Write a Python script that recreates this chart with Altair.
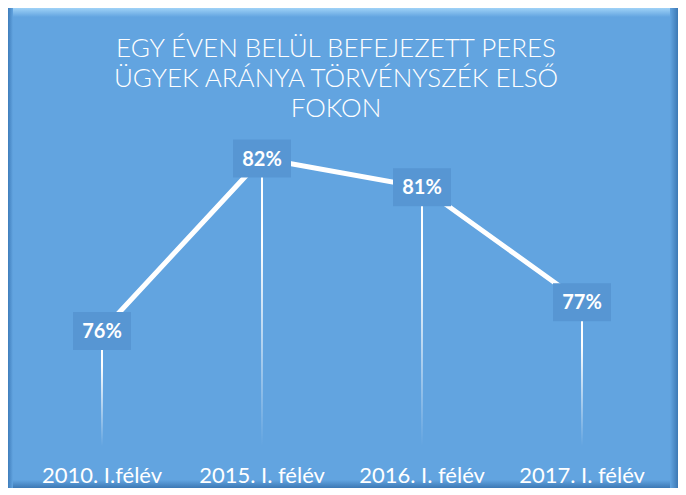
import altair as alt
import pandas as pd

periods = ["2010. I.félév", "2015. I. félév", "2016. I. félév", "2017. I. félév"]
values = [76, 82, 81, 77]
labels = ["76%", "82%", "81%", "77%"]
title_lines = ["EGY ÉVEN BELÜL BEFEJEZETT PERES", "ÜGYEK ARÁNYA TÖRVÉNYSZÉK ELSŐ", "FOKON"]

df = pd.DataFrame({"period": periods, "value": values, "label": labels})
one = pd.DataFrame({"k": [0]})

BG = "#62A4E0"
BOX = "#5796D3"

x = alt.X(
    "period:N",
    sort=periods,
    scale=alt.Scale(paddingInner=0, paddingOuter=0),
    axis=alt.Axis(title=None, labelAngle=0, domain=False, ticks=False, grid=False,
                  labelColor="white", labelFont="Lato", labelFontSize=22,
                  labelFontWeight="normal", labelPadding=19, labelLimit=0, zindex=2),
)
y = alt.Y("value:Q", scale=alt.Scale(domain=[72, 84]), axis=None)

base = alt.Chart(df).encode(x=x, y=y)


def band(x1, x2, y1, y2, c1, c2, vertical=True):
    grad = alt.Gradient(
        gradient="linear",
        stops=[alt.GradientStop(color=c1, offset=0), alt.GradientStop(color=c2, offset=1)],
        x1=0, y1=0, x2=0 if vertical else 1, y2=1 if vertical else 0,
    )
    return alt.Chart(one).mark_rect(fill=grad).encode(
        x=alt.value(x1), x2=alt.value(x2), y=alt.value(y1), y2=alt.value(y2)
    )


top_hl = band(-14, 656, -93, -84, "#9FD2F7", BG)
bottom_dk = band(-14, 656, 379, 387, BG, "#3C78B4")
right_dk = band(648, 656, -93, 387, BG, "#3C78B4", vertical=False)
left_dk = band(-14, -9, -93, 387, "#3F7DBB", BG, vertical=False)

drop_grad = alt.Gradient(
    gradient="linear",
    stops=[alt.GradientStop(color="#FFFFFF", offset=0),
           alt.GradientStop(color="#FFFFFF", offset=0.3),
           alt.GradientStop(color="rgba(255,255,255,0)", offset=1)],
    x1=0, y1=0, x2=0, y2=1,
)
drops = base.mark_bar(size=2, fill=drop_grad).encode(y2=alt.datum(72))

line = base.mark_line(color="white", strokeWidth=5)

box_path = "M-1,-0.655L1,-0.655L1,0.655L-1,0.655Z"
boxes = base.mark_point(shape=box_path, size=3364, filled=True, color=BOX, opacity=1)

texts = base.mark_text(color="white", font="Lato", fontWeight="bold", fontSize=20,
                       baseline="middle", dy=1).encode(text="label:N")

title_layers = []
for i, t in enumerate(title_lines):
    title_layers.append(
        alt.Chart(pd.DataFrame({"t": [t]})).mark_text(
            color="white", font="Lato", fontWeight=300, fontSize=26,
            align="center", baseline="alphabetic"
        ).encode(x=alt.value(314), y=alt.value(-44 + 30 * i), text="t:N")
    )

chart = alt.layer(
    top_hl, bottom_dk, right_dk, left_dk, drops, line, boxes, texts, *title_layers
).properties(
    width=640, height=345,
    padding={"left": 14, "right": 16, "top": 93, "bottom": 42},
    autosize=alt.AutoSizeParams(type="none"),
    background=BG,
).configure_view(stroke=None)

chart.save("out.html", embed_options={"renderer": "svg", "actions": False})
